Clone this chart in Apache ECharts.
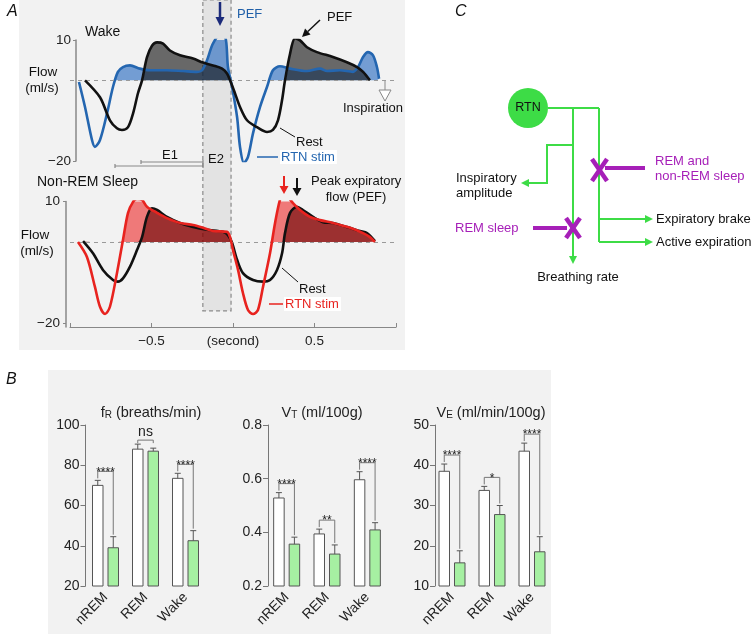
<!DOCTYPE html>
<html><head><meta charset="utf-8">
<script src="https://cdn.jsdelivr.net/npm/echarts@6/dist/echarts.min.js"></script>
<style>html,body{margin:0;padding:0;background:#fff;}#c{width:752px;height:634px;}</style>
</head><body><div id="c"></div>
<script>
const FONT = '"Liberation Sans", Arial, Helvetica, sans-serif';

// ---------- Panel A: flow traces (time in s, flow in ml/s) ----------
const wakeRestT = [-0.908,-0.816,-0.755,-0.712,-0.681,-0.644,-0.613,-0.583,-0.558,-0.528,-0.497,-0.466,-0.429,-0.387,-0.325,-0.245,-0.184,-0.123,-0.067,-0.037,-0.018,0.012,0.043,0.086,0.147,0.209,0.245,0.276,0.301,0.319,0.350,0.380,0.411,0.454,0.515,0.613,0.699,0.761,0.798,0.840];
const wakeRestV = [0,-4.2,-9.9,-11.9,-12.3,-11.6,-8.2,-3.2,0,5.7,8.6,9.4,9.1,7.4,6.2,5.4,4.4,3.7,2.9,1.7,0,-3.2,-6.6,-9.9,-11.6,-12.8,-12.3,-9.9,-4.9,0,6.6,10.4,9.9,8.2,7,5.8,4.5,3.3,2.1,0];
const wakeStimT = [-0.945,-0.908,-0.865,-0.847,-0.816,-0.773,-0.736,-0.706,-0.675,-0.632,-0.571,-0.509,-0.405,-0.307,-0.221,-0.190,-0.160,-0.123,-0.067,-0.043,-0.031,-0.006,0.025,0.043,0.067,0.092,0.123,0.166,0.209,0.245,0.288,0.350,0.454,0.534,0.577,0.656,0.736,0.767,0.798,0.828,0.859,0.883,0.896];
const wakeStimV = [-0.4,-6.6,-14.8,-16.5,-14.8,-8.2,-1.6,2.1,3.3,3.7,2.9,2.5,2.5,2.3,2.1,2.5,4.9,9.1,11.9,9.9,3.3,-1.6,-9.1,-16.5,-20.5,-19,-13.1,-6.6,-1.6,2.5,3.5,2.9,2.3,2.9,2.3,2.5,2.1,3.3,5.8,7,6.2,3.3,0.4];
const nremRestT = [-0.920,-0.859,-0.798,-0.736,-0.706,-0.675,-0.632,-0.589,-0.558,-0.528,-0.497,-0.466,-0.405,-0.325,-0.245,-0.160,-0.061,-0.031,-0.006,0.025,0.061,0.123,0.184,0.227,0.270,0.301,0.319,0.350,0.393,0.429,0.491,0.552,0.613,0.699,0.779,0.822,0.871];
const nremRestV = [0.2,-2.8,-6.9,-9.4,-9.8,-9,-6.1,-2,1.2,6.2,8.3,7.9,6.2,4.7,3.7,3,2.5,1.7,-0.2,-4.4,-7.7,-9.4,-9.8,-9.4,-6.9,-2.8,2.2,7.2,8.7,7.9,6.2,4.9,4.7,3.7,2.7,2.2,0.2];
const nremStimT = [-0.951,-0.896,-0.847,-0.816,-0.785,-0.755,-0.712,-0.675,-0.644,-0.613,-0.589,-0.558,-0.528,-0.466,-0.405,-0.325,-0.245,-0.184,-0.123,-0.037,-0.018,0,0.031,0.061,0.092,0.123,0.153,0.184,0.227,0.258,0.288,0.307,0.337,0.368,0.411,0.472,0.534,0.613,0.718,0.798,0.840,0.871];
const nremStimV = [0,-3.7,-11.1,-16,-17.8,-16,-7.7,0.5,7.2,9.9,10.6,10.4,8.7,7.2,5.9,4.7,4.2,3.5,2.7,2.5,1.2,-2,-6.9,-12.6,-16.8,-17.8,-16.8,-11.1,-2.8,4.7,10.4,11.6,11.1,9.6,7.9,6.2,5.4,4.7,3.5,2.2,1.2,0];
const flowTicks = [10, -20];
const timeTicks = [-0.5, 0, 0.5];
const timeTickMarks = [-1, -0.5, 0, 0.5, 1];
const e2Window = [-0.185, -0.012];

// ---------- Panel B: bar charts ----------
const states = ['nREM', 'REM', 'Wake'];
const fRRest = [70, 88, 73.5];
const fRRestSem = [2.5, 2.5, 2.5];
const fRStim = [39, 87, 42.5];
const fRStimSem = [5.5, 1.5, 5];
const fRSig = ['****', 'ns', '****'];
const vtRest = [0.528, 0.394, 0.596];
const vtRestSem = [0.02, 0.018, 0.03];
const vtStim = [0.356, 0.319, 0.409];
const vtStimSem = [0.026, 0.034, 0.027];
const vtSig = ['****', '**', '****'];
const veRest = [38.5, 33.75, 43.5];
const veRestSem = [1.8, 1.0, 2.0];
const veStim = [15.75, 27.75, 18.5];
const veStimSem = [3.0, 2.25, 3.75];
const veSig = ['****', '*', '****'];

const minus = v => (v < 0 ? '\u2212' + Math.abs(v) : String(v));

const chart = echarts.init(document.getElementById('c'), null, {width: 752, height: 634});

function lineSeries(idx, T, V, color, z) {
  return {type: 'line', xAxisIndex: idx, yAxisIndex: idx, data: T.map((t, i) => [t, V[i]]),
    smooth: 0.3, showSymbol: false, silent: true, lineStyle: {color: color, width: 2.6}, z: z};
}
function areaSeries(idx, T, V, fill, z) {
  return {type: 'line', xAxisIndex: idx, yAxisIndex: idx, data: T.map((t, i) => [t, Math.max(V[i], 0)]),
    smooth: 0.3, showSymbol: false, silent: true, lineStyle: {width: 0}, areaStyle: {color: fill, opacity: 1}, z: z};
}
const zeroLine = {silent: true, symbol: 'none', label: {show: false},
  lineStyle: {type: [4, 4], color: '#9a9a9a', width: 1}, data: [{yAxis: 0}]};

const BW = 10.5, OFF = 7.75;
function barSeries(grid, vals, sign, fill, yMin) {
  return {type: 'custom', xAxisIndex: grid, yAxisIndex: grid, z: 3,
    data: vals.map((v, i) => [i, v]),
    renderItem: (p, api) => {
      const i = api.value(0);
      const top = api.coord([i, api.value(1)]);
      const base = api.coord([i, yMin]);
      const x = top[0] + sign * OFF - BW / 2;
      return {type: 'rect', shape: {x: x, y: top[1], width: BW, height: base[1] - top[1]},
        style: {fill: fill, stroke: '#555', lineWidth: 1}};
    }};
}
function errSeries(grid, vals, sems, sign) {
  return {type: 'custom', xAxisIndex: grid, yAxisIndex: grid, z: 4,
    data: vals.map((v, i) => [i, v, v + sems[i]]),
    renderItem: (p, api) => {
      const i = api.value(0);
      const a = api.coord([i, api.value(1)]);
      const b = api.coord([i, api.value(2)]);
      const x = a[0] + sign * OFF;
      return {type: 'group', children: [
        {type: 'line', shape: {x1: x, y1: a[1], x2: x, y2: b[1]}, style: {stroke: '#555', lineWidth: 1}},
        {type: 'line', shape: {x1: x - 3, y1: b[1], x2: x + 3, y2: b[1]}, style: {stroke: '#555', lineWidth: 1}}
      ]};
    }};
}
function sigSeries(grid, rest, restSem, stim, stimSem, sig) {
  return {type: 'custom', xAxisIndex: grid, yAxisIndex: grid, z: 5,
    data: rest.map((v, i) => [i, v + restSem[i], stim[i] + stimSem[i]]),
    renderItem: (p, api) => {
      const i = api.value(0);
      const pw = api.coord([i, api.value(1)]);
      const pg = api.coord([i, api.value(2)]);
      const xw = pw[0] - OFF, xg = pw[0] + OFF;
      const label = sig[p.dataIndex];
      const ns = label === 'ns';
      const yb = Math.min(pw[1], pg[1]) - (ns ? 4 : 9);
      const yl = ns ? yb + 3 : Math.min(yb + 8, pw[1] - 2);
      const yr = ns ? yb + 3 : pg[1] - 2;
      return {type: 'group', children: [
        {type: 'polyline', shape: {points: [[xw, yl], [xw, yb], [xg, yb], [xg, yr]]},
          style: {stroke: '#777', lineWidth: 1, fill: 'none'}},
        {type: 'text', style: {text: label, x: (xw + xg) / 2, y: ns ? yb - 1 : yb + 1,
          align: 'center', verticalAlign: ns ? 'bottom' : 'middle',
          fontSize: ns ? 14 : 12, fontFamily: FONT, fill: '#222'}}
      ]};
    }};
}

const catAxis = g => ({type: 'category', gridIndex: g, data: states, boundaryGap: true,
  axisLine: {show: false}, axisTick: {show: false},
  axisLabel: {rotate: 45, margin: 9, fontSize: 14, fontFamily: FONT, color: '#222'}});
const valAxis = (g, min, max, interval, fmt, offset) => ({type: 'value', gridIndex: g, min: min, max: max,
  interval: interval, offset: offset || 0, splitLine: {show: false},
  axisLine: {show: true, onZero: false, lineStyle: {color: '#777', width: 1}},
  axisTick: {show: true, length: 5, lineStyle: {color: '#777'}},
  axisLabel: {fontSize: 14, fontFamily: FONT, color: '#222', margin: 6, formatter: fmt}});

const option = {
  animation: false,
  backgroundColor: '#ffffff',
  grid: [
    {left: 70, top: 40, width: 326, height: 121},
    {left: 70, top: 201.5, width: 326, height: 125.5},
    {left: 85.5, top: 425, width: 120, height: 161},
    {left: 266.5, top: 425, width: 121, height: 161},
    {left: 432, top: 425, width: 120, height: 161}
  ],
  xAxis: [
    {type: 'value', gridIndex: 0, min: -1, max: 1, show: false},
    {type: 'value', gridIndex: 1, min: -1, max: 1, splitLine: {show: false},
      axisLine: {show: true, onZero: false, lineStyle: {color: '#888', width: 1.2}},
      axisTick: {show: true, inside: true, length: 4, customValues: timeTickMarks, lineStyle: {color: '#888'}},
      axisLabel: {customValues: timeTicks, fontSize: 13.5, fontFamily: FONT, color: '#222', margin: 7,
        formatter: v => (v === 0 ? '(second)' : minus(v))}},
    catAxis(2), catAxis(3), catAxis(4)
  ],
  yAxis: [
    {type: 'value', gridIndex: 0, min: -20, max: 10, offset: -6, splitLine: {show: false},
      axisLine: {show: true, onZero: false, lineStyle: {color: '#888', width: 1.5}},
      axisTick: {show: true, length: 3, customValues: flowTicks, lineStyle: {color: '#888'}},
      axisLabel: {customValues: flowTicks, fontSize: 13.5, fontFamily: FONT, color: '#222', margin: 5, formatter: minus}},
    {type: 'value', gridIndex: 1, min: -21, max: 10, offset: 4, splitLine: {show: false},
      axisLine: {show: true, onZero: false, lineStyle: {color: '#888', width: 1.5}},
      axisTick: {show: true, length: 3, customValues: flowTicks, lineStyle: {color: '#888'}},
      axisLabel: {customValues: flowTicks, fontSize: 13.5, fontFamily: FONT, color: '#222', margin: 6, formatter: minus}},
    valAxis(2, 20, 100, 20, v => String(v), 0),
    valAxis(3, 0.2, 0.8, 0.2, v => v.toFixed(1), -1.5),
    valAxis(4, 10, 50, 10, v => String(v), -3)
  ],
  series: [
    areaSeries(0, wakeStimT, wakeStimV, 'rgba(30,100,190,0.6)', 2),
    areaSeries(0, wakeRestT, wakeRestV, 'rgba(20,20,20,0.62)', 3),
    Object.assign(lineSeries(0, wakeStimT, wakeStimV, '#2466b0', 4), {markLine: zeroLine}),
    lineSeries(0, wakeRestT, wakeRestV, '#111111', 5),
    areaSeries(1, nremStimT, nremStimV, 'rgba(236,0,0,0.5)', 2),
    areaSeries(1, nremRestT, nremRestV, 'rgba(100,0,0,0.6)', 3),
    Object.assign(lineSeries(1, nremRestT, nremRestV, '#111111', 4), {markLine: zeroLine}),
    lineSeries(1, nremStimT, nremStimV, '#e8231f', 5),

    barSeries(2, fRRest, -1, '#ffffff', 20), barSeries(2, fRStim, 1, '#a6f0a2', 20),
    errSeries(2, fRRest, fRRestSem, -1), errSeries(2, fRStim, fRStimSem, 1),
    sigSeries(2, fRRest, fRRestSem, fRStim, fRStimSem, fRSig),
    barSeries(3, vtRest, -1, '#ffffff', 0.2), barSeries(3, vtStim, 1, '#a6f0a2', 0.2),
    errSeries(3, vtRest, vtRestSem, -1), errSeries(3, vtStim, vtStimSem, 1),
    sigSeries(3, vtRest, vtRestSem, vtStim, vtStimSem, vtSig),
    barSeries(4, veRest, -1, '#ffffff', 10), barSeries(4, veStim, 1, '#a6f0a2', 10),
    errSeries(4, veRest, veRestSem, -1), errSeries(4, veStim, veStimSem, 1),
    sigSeries(4, veRest, veRestSem, veStim, veStimSem, veSig)
  ]
};
chart.setOption(option);

// ---------- annotations ----------
const G = [];
function txt(text, x, y, o) {
  o = o || {};
  G.push({type: 'text', z: 100, silent: true, style: Object.assign({text: text, x: x, y: y,
    fontSize: 13, fontFamily: FONT, fill: '#111', align: 'left', verticalAlign: 'middle'}, o)});
}
function seg(pts, color, lw, z, dash) {
  G.push({type: 'polyline', z: z || 100, silent: true, shape: {points: pts},
    style: {stroke: color, lineWidth: lw, fill: 'none', lineDash: dash || null}});
}
function arrow(x1, y1, x2, y2, color, lw, hl, hw) {
  const a = Math.atan2(y2 - y1, x2 - x1);
  const bx = x2 - hl * Math.cos(a), by = y2 - hl * Math.sin(a);
  const nx = -Math.sin(a) * hw / 2, ny = Math.cos(a) * hw / 2;
  seg([[x1, y1], [bx, by]], color, lw);
  G.push({type: 'polygon', z: 100, silent: true, shape: {points: [[x2, y2], [bx + nx, by + ny], [bx - nx, by - ny]]},
    style: {fill: color}});
}

// backgrounds
G.push({type: 'rect', z: -5, silent: true, shape: {x: 19, y: 0, width: 386, height: 350}, style: {fill: '#f2f2f2'}});
G.push({type: 'rect', z: -5, silent: true, shape: {x: 48, y: 370, width: 503, height: 264}, style: {fill: '#f2f2f2'}});

// E2 window box
const e2x0 = chart.convertToPixel({xAxisIndex: 0}, e2Window[0]);
const e2x1 = chart.convertToPixel({xAxisIndex: 0}, e2Window[1]);
const e2y1 = chart.convertToPixel({yAxisIndex: 1}, -17);
G.push({type: 'rect', z: 1, silent: true, shape: {x: e2x0, y: 0, width: e2x1 - e2x0, height: e2y1},
  style: {fill: '#e3e3e3', stroke: '#8a8a8a', lineWidth: 1.2, lineDash: [4, 3]}});

// panel letters
txt('A', 7, 12, {fontSize: 16, fontStyle: 'italic'});
txt('B', 6, 380, {fontSize: 16, fontStyle: 'italic'});
txt('C', 455, 12, {fontSize: 16, fontStyle: 'italic'});

// Wake panel
txt('Wake', 85, 32, {fontSize: 14});
txt('Flow', 43, 72, {align: 'center', fontSize: 13.5});
txt('(ml/s)', 42, 88, {align: 'center', fontSize: 13.5});
arrow(220, 2, 220, 26, '#1b2a7a', 2.5, 9, 9);
txt('PEF', 237, 14, {fill: '#1f5fa8'});
txt('PEF', 327, 17);
arrow(320, 20, 302, 37, '#111', 1.5, 8, 8);
seg([[385, 81], [385, 90]], '#888', 1);
G.push({type: 'polygon', z: 100, silent: true, shape: {points: [[379, 90], [391, 90], [385, 101]]},
  style: {fill: '#fff', stroke: '#888', lineWidth: 1}});
txt('Inspiration', 373, 108, {align: 'center'});
seg([[280, 128], [295, 137]], '#111', 1);
txt('Rest', 296, 142);
seg([[257, 157], [278, 157]], '#2466b0', 1.5);
txt('RTN stim', 280, 157, {fill: '#2466b0', backgroundColor: '#ffffff', padding: [1, 2, 0, 1]});
seg([[115, 164], [115, 168]], '#888', 1.2);
seg([[115, 166], [203, 166]], '#888', 1.2);
seg([[141, 160], [141, 164]], '#888', 1.2);
seg([[141, 162], [203, 162]], '#888', 1.2);
seg([[203, 160], [203, 168]], '#888', 1.2);
txt('E1', 170, 155, {align: 'center'});
txt('E2', 216, 159, {align: 'center'});

// Non-REM panel
txt('Non-REM Sleep', 37, 182, {fontSize: 14});
txt('Flow', 35, 235, {align: 'center', fontSize: 13.5});
txt('(ml/s)', 37, 251, {align: 'center', fontSize: 13.5});
arrow(284, 176, 284, 194, '#e8231f', 2, 8, 9);
arrow(297, 178, 297, 196, '#111', 2, 8, 9);
txt('Peak expiratory', 311, 181);
txt('flow (PEF)', 356, 197, {align: 'center'});
seg([[282, 268], [298, 282]], '#111', 1);
txt('Rest', 299, 289);
seg([[269, 304], [283, 304]], '#e8231f', 1.5);
txt('RTN stim', 284, 304, {fill: '#e8231f', backgroundColor: '#ffffff', padding: [1, 2, 0, 1]});

// Panel B titles
function title(main, sub, rest, x) {
  G.push({type: 'text', z: 100, silent: true, style: {
    text: '{a|' + main + '}{b|' + sub + '}{a|' + rest + '}', x: x, y: 413, align: 'center', verticalAlign: 'middle',
    fontFamily: FONT, fill: '#222',
    rich: {a: {fontSize: 14.5, fontFamily: FONT, lineHeight: 15, verticalAlign: 'top', fill: '#222'},
           b: {fontSize: 10, fontFamily: FONT, lineHeight: 10, verticalAlign: 'bottom', padding: [7, 0, 0, 0], fill: '#222'}}}});
}
title('f', 'R', ' (breaths/min)', 151);
title('V', 'T', ' (ml/100g)', 322);
title('V', 'E', ' (ml/min/100g)', 491);

// Panel C diagram
const GR = '#3ddc46', PU = '#a61fb8';
G.push({type: 'circle', z: 100, silent: true, shape: {cx: 528, cy: 108, r: 20}, style: {fill: GR}});
txt('RTN', 528, 108, {align: 'center', fontSize: 12.5});
seg([[548, 108], [599, 108]], GR, 2);
seg([[599, 108], [599, 242]], GR, 2);
arrow(573, 108, 573, 264, GR, 2, 8, 8);
seg([[573, 145], [547, 145], [547, 183], [530, 183]], GR, 2);
arrow(547, 183, 521, 183, GR, 2, 8, 8);
arrow(599, 219, 653, 219, GR, 2, 8, 8);
arrow(599, 242, 653, 242, GR, 2, 8, 8);
seg([[605, 168], [645, 168]], PU, 4);
seg([[592, 159], [607, 181]], PU, 4.5);
seg([[607, 159], [592, 181]], PU, 4.5);
seg([[533, 228], [567, 228]], PU, 4);
seg([[566, 218], [580, 238]], PU, 4.5);
seg([[580, 218], [566, 238]], PU, 4.5);
txt('Inspiratory', 456, 178);
txt('amplitude', 456, 193);
txt('REM and', 655, 161, {fill: PU});
txt('non-REM sleep', 655, 176, {fill: PU});
txt('REM sleep', 455, 228, {fill: PU});
txt('Expiratory brake', 656, 219);
txt('Active expiration', 656, 242);
txt('Breathing rate', 578, 277, {align: 'center'});

chart.setOption({graphic: {elements: G}});
</script>
</body></html>
